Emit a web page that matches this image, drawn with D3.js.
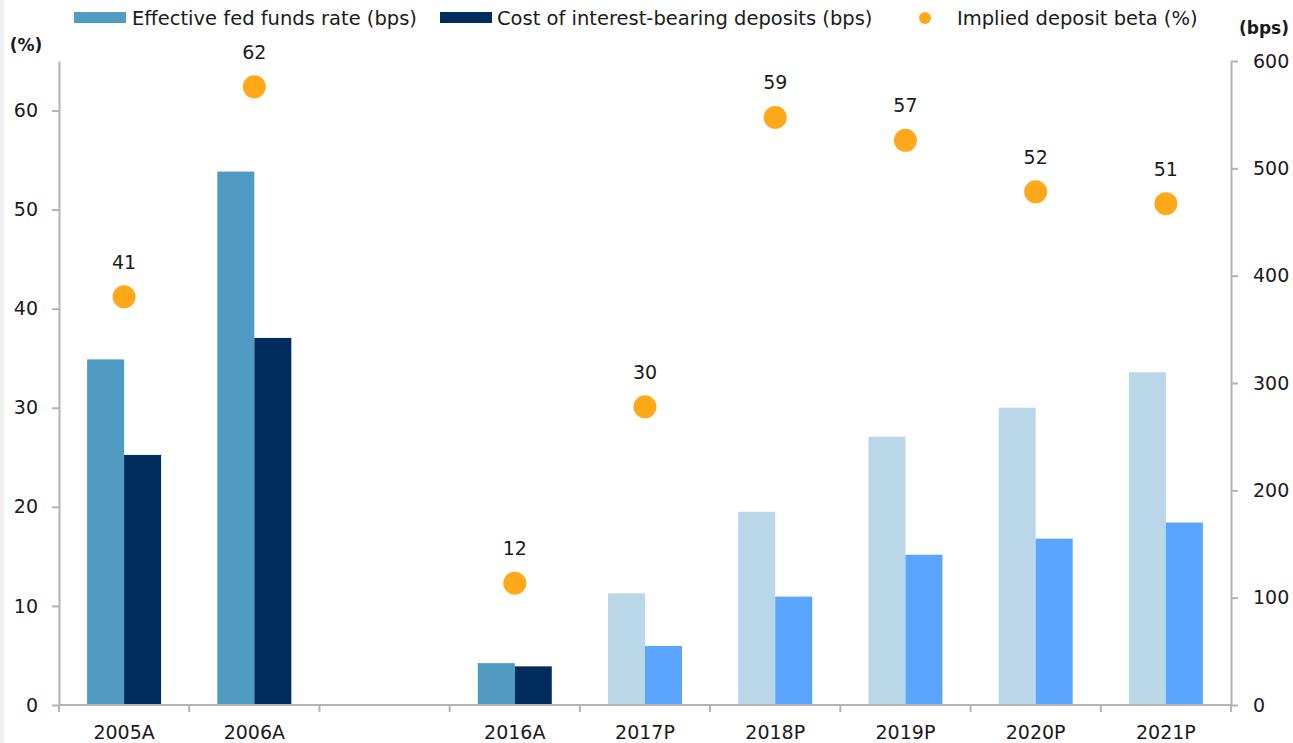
<!DOCTYPE html>
<html>
<head>
<meta charset="utf-8">
<script src="https://cdn.jsdelivr.net/npm/d3@7/dist/d3.min.js"></script>
<style>
  body { margin: 0; background: #fff; }
  svg { display: block; font-family: "DejaVu Sans", Roboto, sans-serif; }
</style>
</head>
<body>
<div id="chart"></div>
<script>
// Deposit beta chart: fed funds vs cost of deposits (bps, right axis), beta (%, left axis)

const categories = ['2005A', '2006A', '', '2016A', '2017P', '2018P', '2019P', '2020P', '2021P'];
const projected = [false, false, false, false, true, true, true, true, true];
const fedFunds = [322, 497, null, 39, 104, 180, 250, 277, 310];
const depositCost = [233, 342, null, 36, 55, 101, 140, 155, 170];
// beta; labels show the rounded value
const depositBeta = [41.2, 62.4, null, 12.3, 30.1, 59.3, 57.0, 51.8, 50.6];
const leftTicks = [0, 10, 20, 30, 40, 50, 60];
const rightTicks = [0, 100, 200, 300, 400, 500, 600];

const colors = {
    fedActual: '#4f9bc2',
    depActual: '#002c5e',
    fedProj: '#b9d7e8',
    depProj: '#5aa5ff',
    beta: '#ffa91a',
    axis: '#b3b3b3',
    text: '#1a1a1a'
};

const W = 1293, H = 743;
const plot = { left: 59, right: 1231, top: 61, bottom: 705 };
const fontSize = '19px';

const svg = d3.select('#chart').append('svg')
    .attr('width', W)
    .attr('height', H);

svg.append('rect')
    .attr('x', 0).attr('y', 0)
    .attr('width', 4).attr('height', H)
    .attr('fill', '#f0f0f0');

// Scales
const keys = categories.map((c, i) => c || ('gap' + i));
const x = d3.scaleBand()
    .domain(keys)
    .range([plot.left, plot.right])
    .padding(0);

const yLeft = d3.scaleLinear().domain([0, 65]).range([plot.bottom, plot.top]);
const yRight = d3.scaleLinear().domain([0, 600]).range([plot.bottom, plot.top]);

const barW = 37;
const rows = categories.map((c, i) => ({
    key: keys[i], label: c, proj: projected[i],
    fed: fedFunds[i], dep: depositCost[i], beta: depositBeta[i]
})).filter(d => d.fed !== null);

// Bars
const g = svg.append('g');
g.selectAll('.bar-fed')
    .data(rows)
    .join('rect')
    .attr('class', 'bar-fed')
    .attr('x', d => x(d.key) + x.bandwidth() / 2 - barW)
    .attr('y', d => yRight(d.fed))
    .attr('width', barW)
    .attr('height', d => plot.bottom - yRight(d.fed))
    .attr('fill', d => d.proj ? colors.fedProj : colors.fedActual);

g.selectAll('.bar-dep')
    .data(rows)
    .join('rect')
    .attr('class', 'bar-dep')
    .attr('x', d => x(d.key) + x.bandwidth() / 2)
    .attr('y', d => yRight(d.dep))
    .attr('width', barW)
    .attr('height', d => plot.bottom - yRight(d.dep))
    .attr('fill', d => d.proj ? colors.depProj : colors.depActual);

// Axes
const axisStyle = sel => {
    sel.select('.domain').attr('stroke', colors.axis).attr('stroke-width', 2);
    sel.selectAll('.tick line').attr('stroke', colors.axis).attr('stroke-width', 2);
    sel.selectAll('.tick text')
        .attr('fill', colors.text)
        .style('font-family', '"DejaVu Sans", sans-serif')
        .style('font-size', fontSize);
};

svg.append('g')
    .attr('transform', `translate(${plot.left},0)`)
    .call(d3.axisLeft(yLeft).tickValues(leftTicks).tickSize(7).tickSizeOuter(0).tickPadding(14))
    .call(axisStyle);

svg.append('g')
    .attr('transform', `translate(${plot.right},0)`)
    .call(d3.axisRight(yRight).tickValues(rightTicks).tickSize(7).tickSizeOuter(0).tickPadding(15))
    .call(axisStyle);

// X axis: baseline with tick marks at band edges
const xAxis = svg.append('g');
xAxis.append('line')
    .attr('x1', plot.left).attr('x2', plot.right)
    .attr('y1', plot.bottom).attr('y2', plot.bottom)
    .attr('stroke', colors.axis).attr('stroke-width', 2);

const edges = keys.map(k => x(k)).concat([plot.right]);
xAxis.selectAll('.xtick')
    .data(edges)
    .join('line')
    .attr('x1', d => d).attr('x2', d => d)
    .attr('y1', plot.bottom).attr('y2', plot.bottom + 7)
    .attr('stroke', colors.axis).attr('stroke-width', 2);

xAxis.selectAll('.xlabel')
    .data(categories.map((c, i) => ({ key: keys[i], label: c })))
    .join('text')
    .attr('x', d => x(d.key) + x.bandwidth() / 2)
    .attr('y', plot.bottom + 34)
    .attr('text-anchor', 'middle')
    .attr('fill', colors.text)
    .style('font-size', fontSize)
    .text(d => d.label);

// Beta dots and labels
g.selectAll('.dot')
    .data(rows)
    .join('circle')
    .attr('cx', d => x(d.key) + x.bandwidth() / 2)
    .attr('cy', d => yLeft(d.beta))
    .attr('r', 11.5)
    .attr('fill', colors.beta);

g.selectAll('.dot-label')
    .data(rows)
    .join('text')
    .attr('x', d => x(d.key) + x.bandwidth() / 2)
    .attr('y', d => yLeft(d.beta) - 28)
    .attr('text-anchor', 'middle')
    .attr('fill', colors.text)
    .style('font-size', fontSize)
    .text(d => Math.round(d.beta));

// Axis unit labels
svg.append('text')
    .attr('x', 26).attr('y', 51)
    .attr('text-anchor', 'middle')
    .attr('fill', colors.text)
    .style('font-size', '17px')
    .style('font-weight', '700')
    .text('(%)');

svg.append('text')
    .attr('x', 1264).attr('y', 34)
    .attr('text-anchor', 'middle')
    .attr('fill', colors.text)
    .style('font-size', '17px')
    .style('font-weight', '700')
    .text('(bps)');

// Legend
const legend = svg.append('g');
legend.append('rect')
    .attr('x', 74).attr('y', 12).attr('width', 52).attr('height', 11)
    .attr('fill', colors.fedActual);
legend.append('text')
    .attr('x', 132).attr('y', 25)
    .attr('fill', colors.text)
    .style('font-size', '19.5px')
    .text('Effective fed funds rate (bps)');

legend.append('rect')
    .attr('x', 440).attr('y', 12).attr('width', 52).attr('height', 11)
    .attr('fill', colors.depActual);
legend.append('text')
    .attr('x', 497).attr('y', 25)
    .attr('fill', colors.text)
    .style('font-size', '19.5px')
    .text('Cost of interest-bearing deposits (bps)');

legend.append('circle')
    .attr('cx', 925).attr('cy', 18).attr('r', 6)
    .attr('fill', colors.beta);
legend.append('text')
    .attr('x', 957).attr('y', 25)
    .attr('fill', colors.text)
    .style('font-size', '19.5px')
    .text('Implied deposit beta (%)');
</script>
</body>
</html>
